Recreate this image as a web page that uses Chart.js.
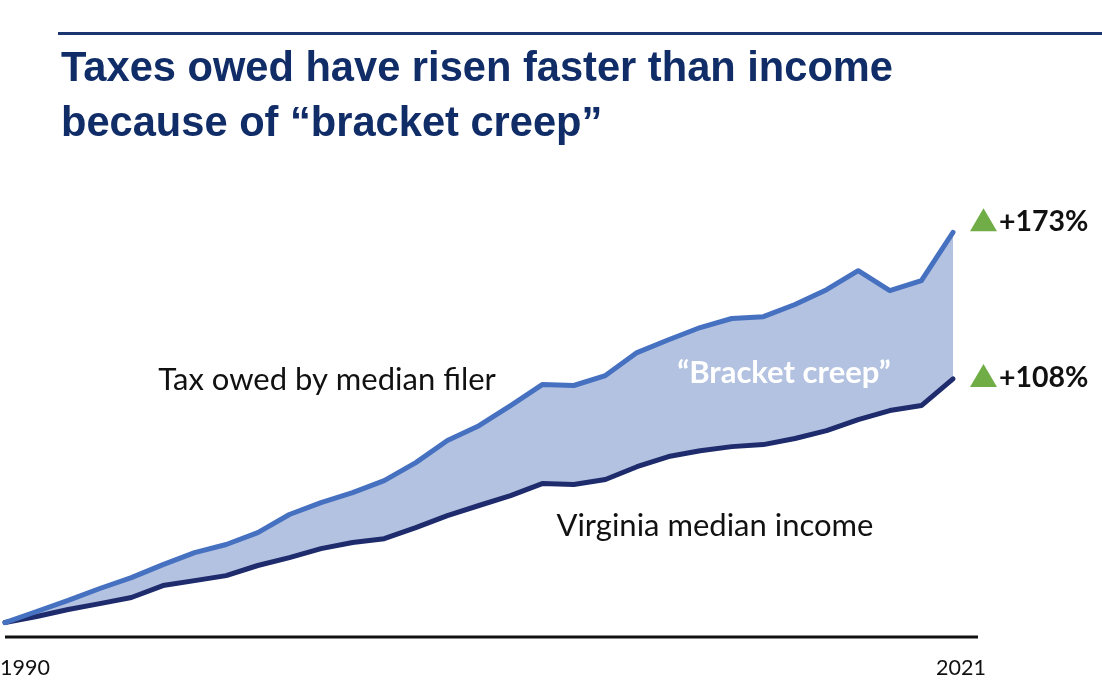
<!DOCTYPE html>
<html>
<head>
<meta charset="utf-8">
<script src="https://cdn.jsdelivr.net/npm/chart.js@4.4.1/dist/chart.umd.min.js"></script>
<style>
  html, body { margin: 0; padding: 0; background: #fff; }
  #wrap { position: relative; width: 1102px; height: 698px; overflow: hidden; }
  #rule { position: absolute; left: 58px; right: 0; top: 32px; height: 3px; background: #1b3570; }
  #title {
    position: absolute; left: 61px; top: 39px;
    font-family: "Liberation Sans", Arial, sans-serif;
    font-weight: bold; font-size: 42px; line-height: 55px; color: #112d68;
    white-space: nowrap; transform-origin: 0 0;
  }
  #title span { display: block; }
  #chartBox { position: absolute; left: 0; top: 0; width: 1102px; height: 698px; }
</style>
</head>
<body>
<div id="wrap">
  <div id="chartBox"><canvas id="bracketChart"></canvas></div>
  <div id="rule"></div>
  <div id="title"><span id="titleLine1">Taxes owed have risen faster than income</span><span>because of “bracket creep”</span></div>
</div>
<script>
'use strict';

// years shown on the chart (31 points, first and last labelled)
const years = [
  '1990','1991','1992','1993','1994','1995','1996','1997','1998','1999',
  '2000','2001','2002','2003','2004','2005','2006','2007','2008','2009',
  '2010','2011','2012','2013','2014','2015','2016','2017','2018','2019','2021'
];

// cumulative % change since 1990
const taxOwed = [
  0, 4.9, 9.8, 15.1, 19.9, 25.7, 31.0, 34.6, 39.9, 47.9,
  53.2, 57.6, 62.9, 70.9, 80.7, 87.3, 96.2, 105.5, 105.1, 109.5,
  119.7, 125.4, 130.8, 134.8, 135.6, 141.0, 147.6, 156.0, 147.2, 151.6, 173
];
const medianIncome = [
  0, 2.7, 5.8, 8.4, 11.1, 16.4, 18.6, 20.8, 25.3, 28.8,
  32.8, 35.5, 37.2, 42.1, 47.4, 51.9, 56.3, 61.6, 61.2, 63.4,
  69.1, 73.6, 76.2, 78.0, 78.9, 81.6, 85.1, 90.0, 94.0, 96.2, 108
];

const firstLabel = '1990';
const lastLabel = '2021';
const taxLabel = 'Tax owed by median filer';
const incomeLabel = 'Virginia median income';
const gapLabel = '“Bracket creep”';
const taxChange = '+173%';
const incomeChange = '+108%';

const TAX_BLUE = '#4670c0';
const INCOME_NAVY = '#1e2b6c';
const GAP_FILL = '#b3c2e0';
const UP_GREEN = '#70ad47';
const LABEL_FONT = 'Lato, "Open Sans", sans-serif';

// squeeze the title into a condensed look, like the original headline
(function fitTitle() {
  const title = document.getElementById('title');
  const line1 = document.getElementById('titleLine1');
  const w = line1.getBoundingClientRect().width;
  if (w > 0) title.style.transform = 'scaleX(' + (832 / w) + ')';
})();

function drawUpMarker(ctx, left, baseY, text) {
  // green triangle followed by bold percentage
  ctx.fillStyle = UP_GREEN;
  ctx.beginPath();
  ctx.moveTo(left, baseY);
  ctx.lineTo(left + 27, baseY);
  ctx.lineTo(left + 13.5, baseY - 23);
  ctx.closePath();
  ctx.fill();
  ctx.fillStyle = '#111';
  ctx.font = 'bold 28.5px ' + LABEL_FONT;
  ctx.textAlign = 'left';
  ctx.textBaseline = 'alphabetic';
  ctx.fillText(text, left + 29, baseY);
}

const annotations = {
  id: 'annotations',
  beforeDatasetsDraw(chart) {
    const ctx = chart.ctx;
    const area = chart.chartArea;
    ctx.save();
    ctx.strokeStyle = '#111';
    ctx.lineWidth = 3;
    ctx.beginPath();
    ctx.moveTo(area.left, area.bottom);
    ctx.lineTo(area.right + 25, area.bottom);
    ctx.stroke();
    ctx.restore();
  },
  afterDatasetsDraw(chart) {
    const ctx = chart.ctx;
    const x = chart.scales.x;
    const y = chart.scales.y;
    const area = chart.chartArea;
    const last = years.length - 1;
    const endX = x.getPixelForValue(last);

    ctx.save();
    // axis labels
    ctx.fillStyle = '#111';
    ctx.font = '21.5px ' + LABEL_FONT;
    ctx.textBaseline = 'alphabetic';
    ctx.textAlign = 'left';
    ctx.fillText(firstLabel, x.getPixelForValue(0) - 5, area.bottom + 38);
    ctx.textAlign = 'center';
    ctx.fillText(lastLabel, endX + 8, area.bottom + 38);

    // series labels
    ctx.font = '31px ' + LABEL_FONT;
    ctx.textAlign = 'left';
    ctx.textBaseline = 'middle';
    ctx.fillText(taxLabel, x.getPixelForValue(4.85), y.getPixelForValue(107.5));
    ctx.fillText(incomeLabel, x.getPixelForValue(17.45), y.getPixelForValue(43));

    ctx.fillStyle = '#ffffff';
    ctx.font = 'bold 31px ' + LABEL_FONT;
    ctx.textAlign = 'center';
    ctx.fillText(gapLabel, x.getPixelForValue(24.65), y.getPixelForValue(110.5));

    // end-of-series changes
    drawUpMarker(ctx, endX + 17, y.getPixelForValue(taxOwed[last]) - 1, taxChange);
    drawUpMarker(ctx, endX + 17, y.getPixelForValue(medianIncome[last]) + 8, incomeChange);
    ctx.restore();
  }
};

const ctx = document.getElementById('bracketChart');
new Chart(ctx, {
  type: 'line',
  data: {
    labels: years,
    datasets: [
      {
        label: taxLabel,
        data: taxOwed,
        borderColor: TAX_BLUE,
        backgroundColor: GAP_FILL,
        borderWidth: 5,
        fill: '+1',
        tension: 0,
        pointRadius: 0,
        borderCapStyle: 'round',
        borderJoinStyle: 'round',
        clip: false
      },
      {
        label: incomeLabel,
        data: medianIncome,
        borderColor: INCOME_NAVY,
        borderWidth: 5,
        fill: false,
        tension: 0,
        pointRadius: 0,
        borderCapStyle: 'round',
        borderJoinStyle: 'round',
        clip: false
      }
    ]
  },
  options: {
    responsive: true,
    maintainAspectRatio: false,
    animation: false,
    layout: { padding: { left: 5, right: 149, top: 194, bottom: 61 } },
    plugins: {
      legend: { display: false },
      tooltip: { enabled: false },
      filler: { drawTime: 'beforeDatasetsDraw' }
    },
    scales: {
      x: { display: false },
      y: { display: false, min: -6.4, max: 190 }
    }
  },
  plugins: [annotations]
});
</script>
</body>
</html>
